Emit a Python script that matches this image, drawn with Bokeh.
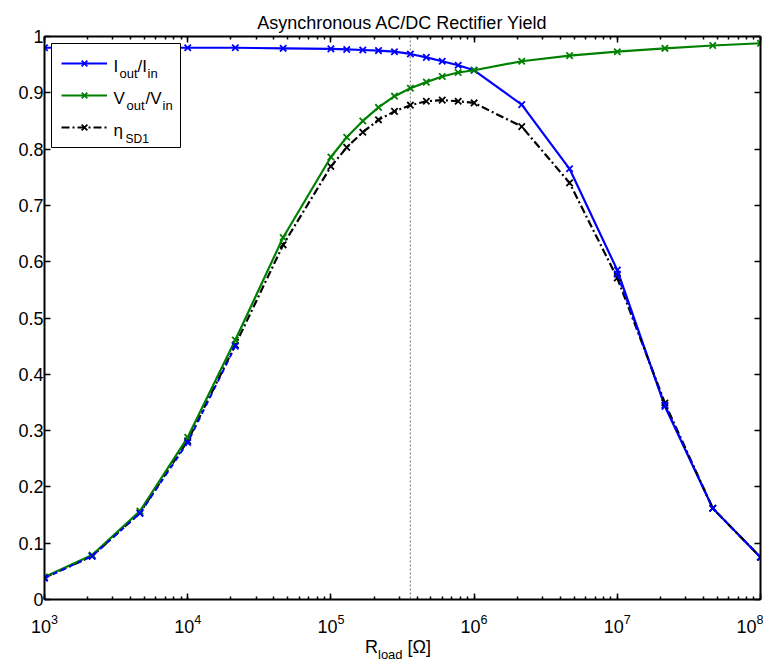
import math
from bokeh.plotting import figure
from bokeh.layouts import column
from bokeh.models import (LogAxis, LinearAxis, Span, Label, Legend, LegendItem,
                          FixedTicker, LogTicker, Range1d, BoxAnnotation, Div)
from bokeh.embed import file_html
from bokeh.resources import INLINE

# ---------------- data ----------------
r_load = [1e3, 2.15e3, 4.64e3, 1e4, 2.15e4, 4.64e4, 1e5, 1.29e5, 1.67e5, 2.15e5,
          2.78e5, 3.59e5, 4.64e5, 5.99e5, 7.74e5, 1e6, 2.15e6, 4.64e6, 1e7,
          2.15e7, 4.64e7, 1e8]
i_ratio = [0.980, 0.980, 0.980, 0.980, 0.980, 0.979, 0.978, 0.977, 0.976, 0.975,
           0.973, 0.969, 0.963, 0.956, 0.949, 0.940, 0.879, 0.765, 0.585,
           0.343, 0.162, 0.075]
v_ratio = [0.040, 0.079, 0.157, 0.288, 0.461, 0.643, 0.786, 0.821, 0.850, 0.874,
           0.894, 0.908, 0.919, 0.929, 0.936, 0.940, 0.956, 0.966, 0.973,
           0.979, 0.984, 0.988]
eta_sd1 = [0.039, 0.077, 0.154, 0.282, 0.452, 0.630, 0.769, 0.803, 0.830, 0.852,
           0.867, 0.878, 0.885, 0.887, 0.885, 0.882, 0.840, 0.740, 0.571,
           0.349, 0.162, 0.075]
# blue dashed trace visible under the curves at both ends
trace_left_x = [1e3, 2.15e3, 4.64e3, 1e4, 2.15e4]
trace_left_y = [0.038, 0.077, 0.153, 0.279, 0.450]
trace_right_x = [1e7, 2.15e7, 4.64e7, 1e8]
trace_right_y = [0.578, 0.345, 0.162, 0.075]

r_marker = 3.59e5  # dotted vertical marker

x_min, x_max = 1e3, 1e8
y_ticks = [0, 0.1, 0.2, 0.3, 0.4, 0.5, 0.6, 0.7, 0.8, 0.9, 1]
y_labels = ["0", "0.1", "0.2", "0.3", "0.4", "0.5", "0.6", "0.7", "0.8", "0.9", "1"]

title_text = "Asynchronous AC/DC Rectifier Yield"
FONT = "Liberation Sans"

FW, FH = 716, 563  # frame size in px

# ---------------- figure ----------------
p = figure(frame_width=FW, frame_height=FH, x_axis_type="log",
           x_range=Range1d(x_min, x_max), y_range=Range1d(0, 1),
           output_backend="svg", toolbar_location=None,
           min_border_left=44, min_border_right=3, min_border_top=36,
           min_border_bottom=36, title=title_text)
p.title.text_font = FONT
p.title.text_font_size = "18px"
p.title.text_font_style = "normal"
p.title.text_color = "black"
p.title.align = "center"
p.title.standoff = 7
p.xgrid.visible = False
p.ygrid.visible = False
p.outline_line_color = "black"

bottom_ax = p.below[0]
left_ax = p.left[0]
bottom_ax.ticker = LogTicker(desired_num_ticks=6, num_minor_ticks=10)
left_ax.ticker = FixedTicker(ticks=y_ticks)
left_ax.major_label_overrides = dict(zip(y_ticks, y_labels))

top_ax = LogAxis(ticker=LogTicker(desired_num_ticks=6, num_minor_ticks=10))
right_ax = LinearAxis(ticker=FixedTicker(ticks=y_ticks))
p.add_layout(top_ax, "above")
p.add_layout(right_ax, "right")

for ax in [bottom_ax, left_ax, top_ax, right_ax]:
    ax.axis_line_width = 2
    ax.axis_line_color = "black"
    ax.major_tick_in = 6
    ax.major_tick_out = 0
    ax.minor_tick_in = 3
    ax.minor_tick_out = 0
    ax.major_tick_line_width = 1.5
    ax.minor_tick_line_width = 1.5
    ax.major_label_text_font = FONT
    ax.major_label_text_font_size = "18px"
    ax.major_label_text_color = "black"

bottom_ax.major_label_standoff = 14
left_ax.major_label_standoff = 1
for ax in [top_ax, right_ax]:
    ax.major_label_text_font_size = "1px"
    ax.major_label_text_color = None
    ax.major_label_standoff = 0
for ax in [left_ax, right_ax]:
    ax.minor_tick_in = 0

# dotted vertical marker
p.add_layout(Span(location=r_marker, dimension="height", line_color="#888888",
                  line_width=1.2, line_dash="2 2", level="underlay"))

# ---------------- series ----------------
li = p.line(r_load, i_ratio, line_color="#0000ff", line_width=2.2)
si = p.scatter(r_load, i_ratio, marker="x", size=9, line_color="#0000ff", line_width=1.8)
le = p.line(r_load, eta_sd1, line_color="black", line_width=2.2, line_dash="8 3 2 3")
se = p.scatter(r_load, eta_sd1, marker="x", size=9, line_color="black", line_width=1.8)
lv = p.line(r_load, v_ratio, line_color="#008000", line_width=2.2)
sv = p.scatter(r_load, v_ratio, marker="x", size=9, line_color="#008000", line_width=1.8)
for tx, ty in [(trace_left_x, trace_left_y), (trace_right_x, trace_right_y)]:
    p.line(tx, ty, line_color="#0000ff", line_width=2, line_dash="5 4")
    p.scatter(tx, ty, marker="x", size=9, line_color="#0000ff", line_width=1.8)


# legend box (px offsets from frame top-left converted to data coords)
def fx(px):
    return 10 ** (math.log10(x_min) + px / FW * (math.log10(x_max) - math.log10(x_min)))


def fy(px):
    return 1 - px / FH


p.add_layout(BoxAnnotation(left=fx(7), right=fx(136), top=fy(7), bottom=fy(111),
                           fill_color="white", fill_alpha=1.0,
                           line_color="black", line_width=1, line_alpha=1.0,
                           level="annotation"))

legend = Legend(items=[LegendItem(label="\u2002", renderers=[li, si]),
                       LegendItem(label="\u2002", renderers=[lv, sv]),
                       LegendItem(label="\u2002", renderers=[le, se])],
                location="top_left", margin=17, padding=10, spacing=12,
                glyph_width=46, glyph_height=20, label_height=20, label_width=60,
                label_standoff=7, label_text_font_size="12px",
                label_text_font=FONT,
                border_line_color=None, background_fill_alpha=0.0)
p.add_layout(legend)


def txt(text, ax, ay, dx, dy, size):
    p.add_layout(Label(x=ax, y=ay, x_offset=dx, y_offset=dy, text=text,
                       text_font=FONT, text_font_size=size, text_color="black",
                       text_baseline="alphabetic", text_align="left",
                       level="overlay"))


# legend texts (offsets from frame top-left)
txt("I", x_min, 1, 69, -30, "17px")
txt("out", x_min, 1, 75, -37, "13px")
txt("/I", x_min, 1, 93, -30, "17px")
txt("in", x_min, 1, 103, -37, "13px")
txt("V", x_min, 1, 69, -62, "17px")
txt("out", x_min, 1, 82, -69, "13px")
txt("/V", x_min, 1, 101, -62, "17px")
txt("in", x_min, 1, 118, -69, "13px")
txt("\u03b7", x_min, 1, 69, -94, "17px")
txt("SD1", x_min, 1, 81, -102, "12px")

# x-axis label below the figure
xlabel = Div(text="R<sub style='font-size:13px;vertical-align:-6px'>load</sub>&nbsp;[\u03a9]",
             width=763, height=30, margin=(0, 0, 0, 0),
             styles={"font-family": FONT, "font-size": "18px", "color": "black",
                     "padding-left": "365px", "padding-top": "3px",
                     "line-height": "18px"})

open("out.html", "w").write(file_html(column(p, xlabel, spacing=0), INLINE))
